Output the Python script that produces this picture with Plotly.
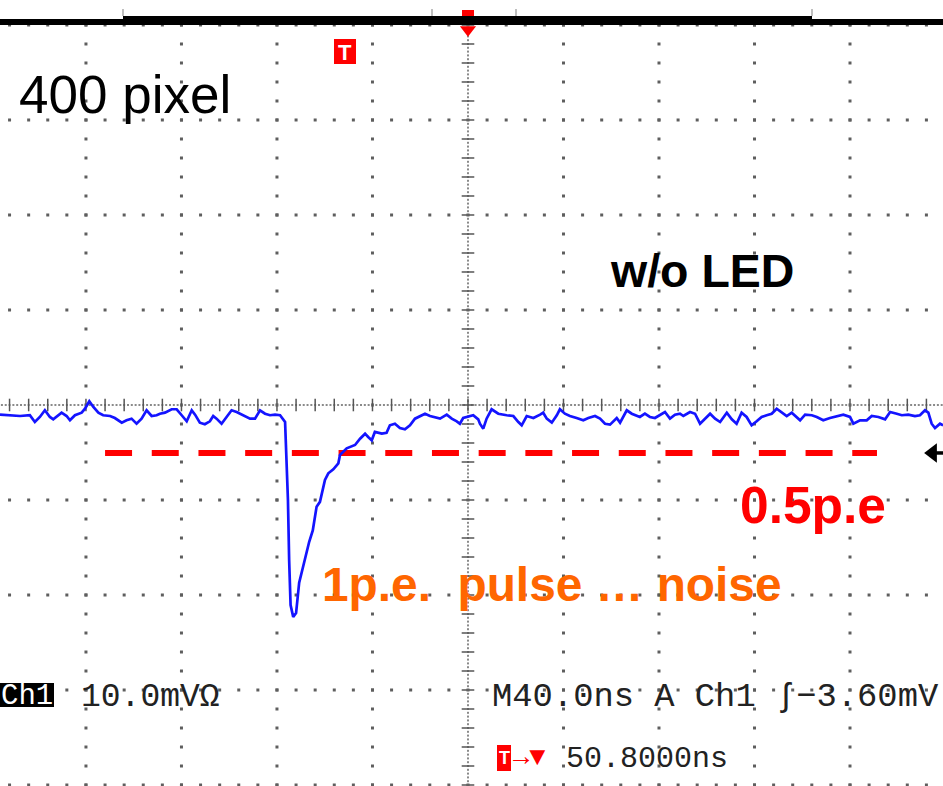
import numpy as np
import plotly.graph_objects as go

W, H = 943, 786
NS_PER_DIV = 40.0      # M 40.0ns
MV_PER_DIV = 10.0      # Ch1 10.0mV
X_RANGE = [-196.0, 198.95]
Y_RANGE = [-40.105, 42.63]

# ---- waveform data (ns, mV) ----
seg1_t = [-196.0, -191.8, -187.6, -183.5, -181.4, -179.3, -177.2, -175.1, -173.7, -170.2,
          -168.1, -166.7, -164.6, -161.8, -160.4, -158.6, -156.9, -154.8, -152.8, -149.9,
          -147.9, -145.0, -143.0, -140.9, -138.8, -136.7, -134.6, -132.5, -130.4, -129.0]
seg1_v = [-1.02, -1.08, -1.16, -1.08, -1.79, -1.26, -0.56, -1.26, -1.51, -0.81,
          -1.16, -1.61, -1.08, -0.81, -0.39, 0.39, -0.21, -0.81, -1.08, -1.16,
          -1.37, -1.86, -1.61, -1.44, -1.97, -1.44, -0.56, -1.16, -1.08, -0.92]
seg2_t = [-126.9, -124.1, -122.0, -119.9, -117.8, -115.7, -114.3, -112.3, -110.2, -108.1,
          -106.7, -105.3, -103.2, -101.1, -99.0, -96.9, -94.1, -91.3, -89.2, -87.1,
          -85.0, -82.9, -80.8, -78.7, -76.6]
seg2_v = [-0.81, -0.45, -0.45, -1.08, -1.72, -0.56, -1.02, -1.86, -2.03, -1.72,
          -1.16, -1.44, -1.97, -1.26, -0.56, -0.74, -1.08, -1.44, -1.44, -0.56,
          -0.92, -1.08, -1.02, -1.08, -1.79]
pulse_t = [-76.2, -75.4, -74.9, -74.3, -73.2, -72.0, -70.7, -66.5, -65.0, -64.1,
           -63.4, -62.0, -61.0, -59.9, -58.5, -56.4, -54.3, -53.6, -50.8, -47.3,
           -45.2, -43.1, -41.8, -40.3, -39.0, -36.1, -34.1, -32.7, -30.6, -28.5,
           -26.4, -24.3, -22.2, -20.1, -18.0, -15.9, -13.8, -11.7, -8.9, -6.8,
           -4.7, -3.4, -2.0, 0.1, 2.2, 4.3]
pulse_v = [-4.74, -10.0, -16.3, -21.05, -22.3, -21.9, -18.7, -14.4, -13.2, -11.8,
           -10.7, -10.2, -8.95, -7.89, -7.19, -6.77, -6.14, -5.26, -4.56, -4.21,
           -3.55, -3.02, -3.37, -3.72, -2.84, -3.02, -2.92, -2.14, -1.97, -2.42,
           -2.56, -2.14, -1.44, -1.16, -0.92, -1.16, -1.26, -1.44, -1.02, -1.44,
           -1.72, -1.97, -1.37, -1.26, -1.08, -1.51]
seg4_t = [5.0, 6.4, 7.8, 9.9, 12.7, 16.2, 19.0, 21.1, 22.5, 24.6,
          27.4, 30.2, 31.5, 33.0, 35.1, 37.2, 38.5, 40.6, 42.7, 45.5,
          48.3, 50.4, 53.2, 55.3, 57.4, 59.5, 62.3, 63.7, 66.5, 68.6,
          70.7, 72.0]
seg4_v = [-1.97, -2.49, -1.44, -0.45, -0.92, -1.08, -1.16, -1.79, -2.14, -1.16,
          -1.37, -1.02, -0.81, -1.44, -1.86, -1.08, -0.45, -0.92, -1.16, -1.37,
          -1.61, -1.37, -1.16, -1.44, -1.97, -2.07, -1.37, -1.86, -0.56, -0.92,
          -1.08, -1.26]
seg5_t = [74.1, 76.2, 78.3, 80.4, 82.5, 84.6, 86.7, 88.8, 90.2, 93.0,
          95.1, 97.2, 99.3, 101.4, 103.5, 105.6, 108.4, 110.5, 112.5, 114.6,
          116.7, 118.8, 120.9, 123.0, 125.1, 127.2, 129.3, 131.4, 133.5, 135.6,
          137.7, 139.1]
seg5_v = [-0.92, -1.26, -1.37, -1.08, -0.74, -1.44, -1.02, -0.92, -1.16, -0.74,
          -0.92, -1.97, -1.44, -0.92, -1.44, -1.79, -0.81, -1.51, -1.97, -0.81,
          -1.26, -2.14, -1.72, -1.26, -1.08, -0.92, -0.39, -0.74, -1.16, -0.81,
          -1.26, -1.61]
seg6_t = [141.2, 144.0, 146.1, 148.8, 151.6, 154.4, 157.2, 160.0, 161.4, 164.2,
          167.0, 169.1, 171.9, 174.7, 176.8, 179.6, 181.7, 184.4, 187.2, 189.3,
          191.4, 192.8, 194.2, 195.6, 197.7, 199.0]
seg6_v = [-1.02, -1.08, -1.26, -1.61, -1.37, -1.16, -1.02, -1.26, -1.97, -1.61,
          -1.61, -1.16, -1.26, -1.51, -0.74, -0.92, -1.08, -1.02, -1.16, -1.08,
          -0.56, -0.81, -1.97, -2.42, -1.97, -2.14]

time_ns = seg1_t + seg2_t + pulse_t + seg4_t + seg5_t + seg6_t
volt_mV = seg1_v + seg2_v + pulse_v + seg4_v + seg5_v + seg6_v

threshold_mV = -5.05          # 0.5 p.e. level
threshold_t = [-152.0, 171.3]
trigger_level_mV = -5.05

# ---- texts ----
label_pixel = "400 pixel"
label_led = "w/o LED"
label_thr = "0.5p.e"
label_pulse = "1p.e.\u00a0 pulse \u2026 noise"
scope_ch = "Ch1"
scope_scale = "10.0mV\u03a9"
scope_time = "M40.0ns A Ch1 \u0283\u22123.60mV"
scope_pos = "50.8000ns"

fig = go.Figure()

# ---- graticule ----
major_t = np.arange(-4, 5) * NS_PER_DIV
major_v = np.arange(-4, 5) * MV_PER_DIV
minor_v = np.arange(-20, 21) * MV_PER_DIV / 5
minor_t = np.arange(-25, 26) * NS_PER_DIV / 5
gx, gy = [], []
for t in major_t:
    if t == 0:
        continue
    gx += [t] * len(minor_v)
    gy += list(minor_v)
for v in major_v:
    if v == 0:
        continue
    gx += list(minor_t)
    gy += [v] * len(minor_t)
fig.add_trace(go.Scatter(x=gx, y=gy, mode="markers",
                         marker=dict(symbol="square", size=3, color="#5e5e5e", line_width=0),
                         hoverinfo="skip"))
fine_v = np.arange(-100, 101) * MV_PER_DIV / 25
fine_t = np.arange(-125, 126) * NS_PER_DIV / 25
fig.add_trace(go.Scatter(x=list(np.zeros(len(fine_v))) + list(fine_t),
                         y=list(fine_v) + list(np.zeros(len(fine_t))),
                         mode="markers",
                         marker=dict(symbol="square", size=2, color="#8a8a8a", line_width=0),
                         hoverinfo="skip"))
fig.add_trace(go.Scatter(x=np.zeros(len(minor_v)), y=minor_v, mode="markers",
                         marker=dict(symbol="line-ew", size=9, line=dict(width=1.5, color="#555555")),
                         hoverinfo="skip"))
fig.add_trace(go.Scatter(x=minor_t, y=np.zeros(len(minor_t)), mode="markers",
                         marker=dict(symbol="line-ns", size=9, line=dict(width=1.5, color="#555555")),
                         hoverinfo="skip"))

# ---- threshold line ----
fig.add_trace(go.Scatter(x=threshold_t, y=[threshold_mV, threshold_mV], mode="lines",
                         line=dict(color="#ff0000", width=6, dash="27px,19.7px"),
                         hoverinfo="skip"))

# ---- waveform ----
fig.add_trace(go.Scatter(x=time_ns, y=volt_mV, mode="lines",
                         line=dict(color="#1414ff", width=2.7), hoverinfo="skip"))

# ---- trigger level arrow (right) ----
fig.add_trace(go.Scatter(x=[195.0, 199.5], y=[trigger_level_mV, trigger_level_mV], mode="lines",
                         line=dict(color="black", width=3.5), hoverinfo="skip"))
fig.add_trace(go.Scatter(x=[194.6], y=[trigger_level_mV], mode="markers",
                         marker=dict(symbol="triangle-left", size=17, color="black"),
                         hoverinfo="skip"))
# ---- trigger position marker (top) ----
fig.add_trace(go.Scatter(x=[0], y=[39.5], mode="markers",
                         marker=dict(symbol="triangle-down", size=14, color="#ff0000"),
                         hoverinfo="skip"))


def px(x):
    return x / W


def py(y):
    return 1 - y / H


shapes = []
# top black bar
shapes.append(dict(type="rect", xref="paper", yref="paper", x0=0, x1=1, y0=py(25), y1=py(19),
                   fillcolor="black", line_width=0))
shapes.append(dict(type="rect", xref="paper", yref="paper", x0=px(123), x1=px(812), y0=py(25), y1=py(16),
                   fillcolor="black", line_width=0))
for xx in [123, 432, 516, 812]:
    shapes.append(dict(type="line", xref="paper", yref="paper", x0=px(xx), x1=px(xx), y0=py(16), y1=py(9),
                       line=dict(color="#aaaaaa", width=1.5)))
shapes.append(dict(type="rect", xref="paper", yref="paper", x0=px(462), x1=px(474), y0=py(16), y1=py(10),
                   fillcolor="#ff0000", line_width=0))
# top T marker box
shapes.append(dict(type="rect", xref="paper", yref="paper", x0=px(334), x1=px(356), y0=py(64), y1=py(39),
                   fillcolor="#ff0000", line_width=0))
# Ch1 box
shapes.append(dict(type="rect", xref="paper", yref="paper", x0=0, x1=px(54), y0=py(707), y1=py(683),
                   fillcolor="black", line_width=0))
# bottom T box
shapes.append(dict(type="rect", xref="paper", yref="paper", x0=px(497), x1=px(511), y0=py(771), y1=py(745),
                   fillcolor="#ff0000", line_width=0))

SANS = "Liberation Sans, Arial, sans-serif"
MONO = "Liberation Mono, DejaVu Sans Mono, monospace"
ann = []


def add_text(text, x, y, size, color, family=SANS, bold=False, anchor="left"):
    t = f"<b>{text}</b>" if bold else text
    ann.append(dict(text=t, xref="paper", yref="paper", x=px(x), y=py(y), xanchor=anchor,
                    yanchor="middle", showarrow=False, font=dict(size=size, color=color, family=family)))


add_text(label_pixel, 17, 94, 53, "black")
add_text(label_led, 608, 271, 46.5, "black", bold=True)
add_text(label_thr, 738, 505, 51.5, "#ff0000", bold=True)
add_text(label_pulse, 320, 584, 47.8, "#ff6600", bold=True)
add_text("T", 345, 52, 22, "white", bold=True, anchor="center")
add_text(scope_ch, 27, 696, 29, "white", family=MONO, anchor="center")
add_text(scope_scale, 79, 697, 33, "#222222", family=MONO)
add_text(scope_time, 490, 697, 33.8, "#222222", family=MONO)
add_text("T", 504, 758, 18, "white", bold=True, anchor="center")
add_text("\u2192\u25bc", 511, 758, 27, "#ff0000", family=MONO)
add_text(scope_pos, 564, 759, 30, "#222222", family=MONO)

fig.update_layout(
    width=W, height=H,
    margin=dict(l=0, r=0, t=0, b=0),
    paper_bgcolor="white", plot_bgcolor="white",
    showlegend=False,
    xaxis=dict(range=X_RANGE, visible=False, fixedrange=True),
    yaxis=dict(range=Y_RANGE, visible=False, fixedrange=True),
    shapes=shapes,
    annotations=ann,
)

fig.write_html("out.html")
